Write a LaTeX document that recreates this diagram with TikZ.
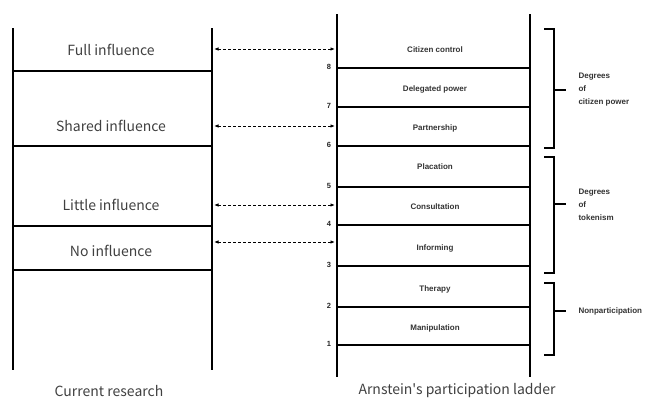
\documentclass[tikz,border=0pt]{standalone}
\usepackage{fontspec}
\setmainfont{Liberation Sans}
\newfontfamily\cjk{Noto Sans CJK SC}
\usetikzlibrary{arrows.meta}

\tikzset{
  rail/.style={line width=2.4pt},
  rung/.style={line width=1.8pt},
  thinrail/.style={line width=1.6pt},
  thinrung/.style={line width=1.5pt},
  bracket/.style={line width=1.6pt},
  biglabel/.style={font=\cjk\fontsize{14}{16}\selectfont, text=black!75},
  steplabel/.style={font=\fontsize{8}{9}\selectfont\bfseries, text=black!80},
  numlabel/.style={font=\fontsize{7.5}{9}\selectfont\bfseries, text=black!85},
  grouplabel/.style={font=\fontsize{8}{13}\selectfont\bfseries, text=black!80, anchor=west, align=left},
  link/.style={{Latex[length=4.5pt,width=3.5pt]}-{Latex[length=4.5pt,width=3.5pt]}, dash pattern=on 3pt off 2pt, line width=0.9pt}
}

\begin{document}
\begin{tikzpicture}[x=1pt,y=-1pt]
  \useasboundingbox (0,0) rectangle (646,399);

  % left ladder
  \draw[rail] (13,28) -- (13,370);
  \draw[rail] (212,28) -- (212,370);
  \foreach \y in {71,146,226,270}
    \draw[rung] (13,\y) -- (212,\y);
  \node[biglabel] (full) at (111,50) {Full influence};
  \node[biglabel] (shared) at (111,126) {Shared influence};
  \node[biglabel] (little) at (111,205) {Little influence};
  \node[biglabel] (none) at (111,251) {No influence};
  \node[biglabel] (cur) at (109,391) {Current research};

  % right ladder
  \draw[thinrail] (337,14) -- (337,377);
  \draw[thinrail] (530,14) -- (530,377);
  \foreach \y/\n in {68/8,107/7,146/6,187/5,225/4,266/3,307/2,345/1} {
    \draw[thinrung] (337,\y) -- (530,\y);
    \node[numlabel] (n\n) at (329,\y-1) {\n};
  }
  \node[steplabel] (control) at (435,50) {Citizen control};
  \node[steplabel] (delegated) at (435,89) {Delegated power};
  \node[steplabel] (partner) at (435,128) {Partnership};
  \node[steplabel] (placation) at (435,167) {Placation};
  \node[steplabel] (consult) at (435,207) {Consultation};
  \node[steplabel] (inform) at (435,248) {Informing};
  \node[steplabel] (therapy) at (435,289) {Therapy};
  \node[steplabel] (manip) at (435,328) {Manipulation};
  \node[biglabel] (arn) at (457,391) {Arnstein's participation ladder};

  % brackets
  \draw[bracket] (544,29) -- (554,29) -- (554,148) -- (544,148);
  \draw[bracket] (554,90) -- (566,90);
  \draw[bracket] (544,157) -- (554,157) -- (554,273) -- (544,273);
  \draw[bracket] (554,204) -- (566,204);
  \draw[bracket] (544,283) -- (554,283) -- (554,355) -- (544,355);
  \draw[bracket] (554,311) -- (566,311);
  \node[grouplabel] (power) at (575,90) {Degrees\\of\\citizen power};
  \node[grouplabel] (token) at (575,205) {Degrees\\of\\tokenism};
  \node[grouplabel] (nonpart) at (575,311) {Nonparticipation};

  % links
  \foreach \name/\y in {full/49,shared/126,little/205,none/242} {
    \coordinate (\name-a) at (214,\y);
    \coordinate (\name-b) at (335,\y);
    \draw[link] (\name-a) -- (\name-b);
  }
\end{tikzpicture}
\end{document}
